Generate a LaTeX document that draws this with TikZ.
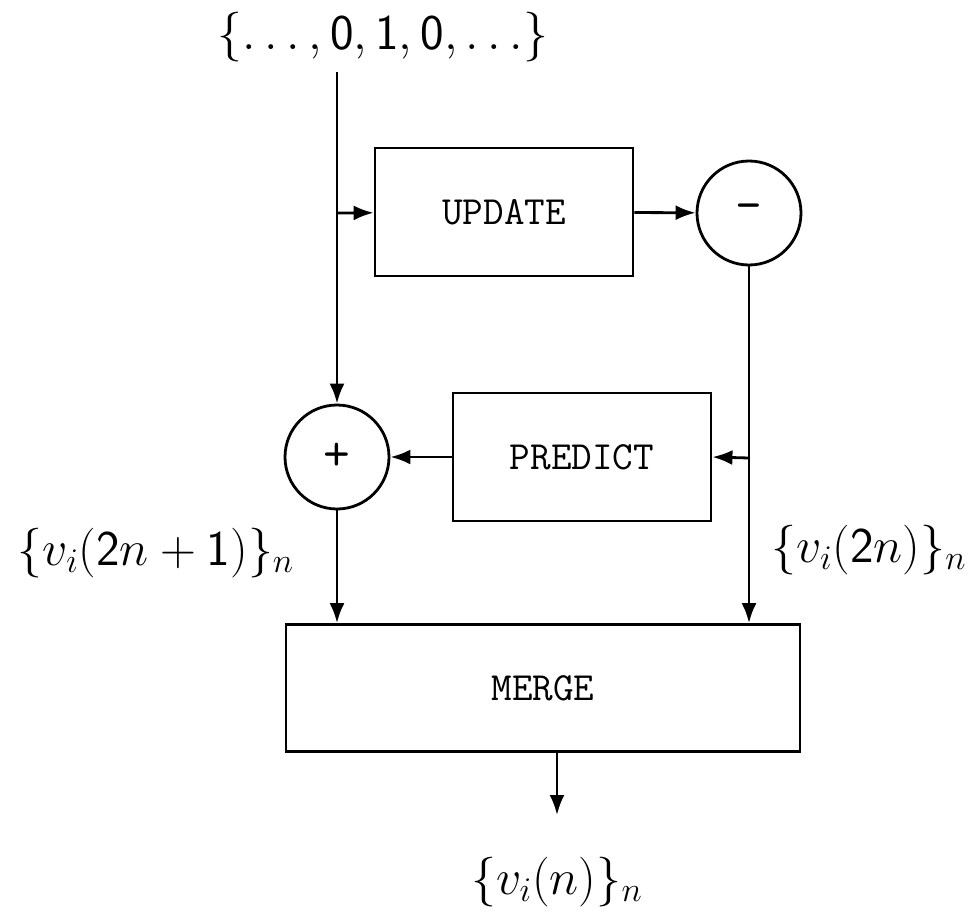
\documentclass[tikz,border=0pt]{standalone}
\usepackage{fontspec}
\usetikzlibrary{arrows.meta}
\begin{document}
\begin{tikzpicture}[x=0.5pt,y=-0.5pt, line width=1.4pt,
  >={Latex[length=10pt,width=7.5pt]},
  box/.style={draw, rectangle, inner sep=0pt, line width=1.4pt, font=\ttfamily\fontsize{20}{24}\selectfont},
  sumnode/.style={draw, circle, minimum size=52pt, inner sep=0pt, line width=1.4pt, font=\ttfamily\fontsize{26}{30}\selectfont},
  lbl/.style={inner sep=0pt, font=\fontsize{25}{30}\selectfont}]
\useasboundingbox (0,0) rectangle (974,920);
\node[lbl] (top) at (383,37) {$\{\dots,\mathsf{0},\mathsf{1},\mathsf{0},\dots\}$};
\coordinate (start) at (337,72);
\coordinate (j1) at (337,213);
\node[box, minimum width=129pt, minimum height=64pt] (upd) at (504,212) {UPDATE};
\node[sumnode] (minus) at (749,213) {-};
\node[box, minimum width=129pt, minimum height=64pt] (pred) at (582,457) {PREDICT};
\node[sumnode] (plus) at (337,457) {+};
\node[box, minimum width=257pt, minimum height=63.5pt] (merge) at (543,688) {MERGE};
\coordinate (j2) at (749,458);
\coordinate (outend) at (557,815);
\node[lbl] (lleft) at (156,553) {$\{v_i(\mathsf{2}n+\mathsf{1})\}_n$};
\node[lbl] (lright) at (869,550) {$\{v_i(\mathsf{2}n)\}_n$};
\node[lbl] (lbot) at (557,882) {$\{v_i(n)\}_n$};
\draw[->] (start) -- (plus);
\draw[->] (j1) -- (upd);
\draw[->] (upd) -- (minus);
\draw[->] (minus) -- (minus |- merge.north);
\draw[->] (j2) -- (pred.east);
\draw[->] (pred) -- (plus);
\draw[->] (plus) -- (plus |- merge.north);
\draw[->] (merge.south -| outend) -- (outend);
\end{tikzpicture}
\end{document}
